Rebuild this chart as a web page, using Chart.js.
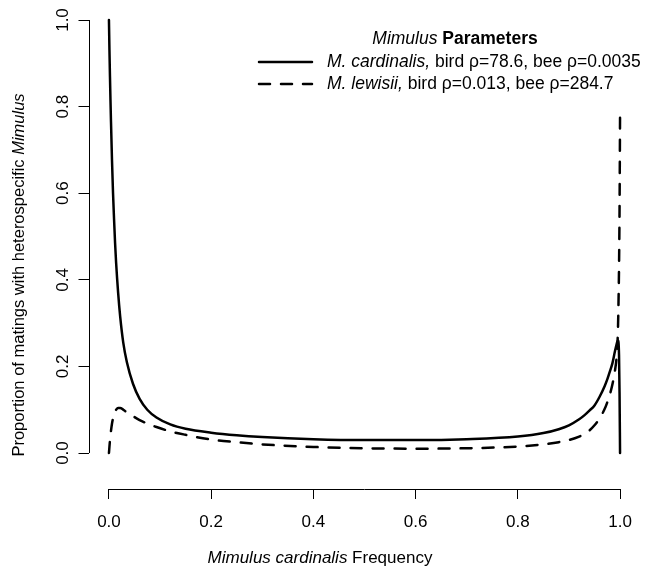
<!DOCTYPE html>
<html><head><meta charset="utf-8">
<script src="https://cdn.jsdelivr.net/npm/chart.js@4/dist/chart.umd.min.js"></script>
<style>html,body{margin:0;padding:0;background:#fff;}canvas{display:block}</style>
</head><body>
<canvas id="c" width="645" height="571"></canvas>
<script>
// M. cardinalis frequency (x)
const freq = [0, 0.001, 0.002, 0.003, 0.004, 0.006, 0.008, 0.01, 0.012, 0.014,
  0.018, 0.022, 0.028, 0.035, 0.047, 0.06, 0.075, 0.093, 0.12, 0.15,
  0.2, 0.25, 0.3, 0.4, 0.5, 0.6, 0.7, 0.8, 0.85, 0.88,
  0.9, 0.92, 0.93, 0.94, 0.95, 0.96, 0.97, 0.975, 0.98, 0.985,
  0.99, 0.993, 0.995, 0.996, 0.997, 0.998, 0.999, 1.0];
// Proportion of heterospecific matings, M. cardinalis (solid)
const cardinalis = [1.0, 0.93, 0.87, 0.815, 0.765, 0.675, 0.6, 0.54, 0.485, 0.44,
  0.37, 0.315, 0.255, 0.21, 0.16, 0.125, 0.1, 0.082, 0.066, 0.056,
  0.047, 0.041, 0.037, 0.032, 0.03, 0.03, 0.032, 0.038, 0.046, 0.055,
  0.064, 0.078, 0.087, 0.098, 0.11, 0.13, 0.155, 0.17, 0.188, 0.207,
  0.235, 0.25, 0.258, 0.26, 0.255, 0.225, 0.14, 0.0];
// Proportion of heterospecific matings, M. lewisii (dashed)
const lewisii = [0.0, 0.015, 0.029, 0.041, 0.051, 0.068, 0.08, 0.089, 0.096, 0.1,
  0.104, 0.104, 0.1, 0.094, 0.085, 0.076, 0.068, 0.06, 0.05, 0.042,
  0.031, 0.025, 0.02, 0.014, 0.011, 0.01, 0.011, 0.015, 0.02, 0.025,
  0.03, 0.038, 0.044, 0.052, 0.064, 0.08, 0.102, 0.117, 0.135, 0.158,
  0.19, 0.218, 0.255, 0.29, 0.35, 0.43, 0.56, 0.78];
const xTicks = [0, 0.2, 0.4, 0.6, 0.8, 1.0];
const yTicks = [0, 0.2, 0.4, 0.6, 0.8, 1.0];
const legendTitle = [["Mimulus", "italic"], [" Parameters", "bold"]];
const legendRows = [
  [["M. cardinalis,", "italic"], [" bird \u03c1=78.6, bee \u03c1=0.0035", "normal"]],
  [["M. lewisii,", "italic"], [" bird \u03c1=0.013, bee \u03c1=284.7", "normal"]]
];
const xTitle = [["Mimulus cardinalis", "italic"], [" Frequency", "normal"]];
const yTitle = [["Proportion of matings with heterospecific ", "normal"], ["Mimulus", "italic"]];

const FAM = '"Liberation Sans", Arial, Helvetica, sans-serif';
const FS = 17;
function fontFor(style, size) {
  const fs = size || FS;
  if (style === 'italic') return `italic ${fs}px ${FAM}`;
  if (style === 'bold') return `bold ${fs}px ${FAM}`;
  return `${fs}px ${FAM}`;
}
function runWidth(ctx, parts, size) {
  let w = 0;
  for (const [t, s] of parts) { ctx.font = fontFor(s, size); w += ctx.measureText(t).width; }
  return w;
}
function drawRuns(ctx, parts, x, y, size) {
  ctx.textAlign = 'left';
  ctx.textBaseline = 'middle';
  for (const [t, s] of parts) {
    ctx.font = fontFor(s, size);
    ctx.fillText(t, x, y);
    x += ctx.measureText(t).width;
  }
}

const rAxes = {
  id: 'rAxes',
  afterDraw(chart) {
    const {ctx, chartArea, scales} = chart;
    const xs = scales.x, ys = scales.y;
    ctx.save();
    ctx.strokeStyle = '#000';
    ctx.lineWidth = 1;
    ctx.setLineDash([]);
    // axis lines span first..last tick (R style)
    const yb = Math.round(chartArea.bottom) + 0.5;
    ctx.beginPath();
    ctx.moveTo(xs.getPixelForValue(xTicks[0]), yb);
    ctx.lineTo(xs.getPixelForValue(xTicks[xTicks.length - 1]), yb);
    ctx.stroke();
    const xl = Math.round(chartArea.left) + 0.5;
    ctx.beginPath();
    ctx.moveTo(xl, ys.getPixelForValue(yTicks[0]));
    ctx.lineTo(xl, ys.getPixelForValue(yTicks[yTicks.length - 1]));
    ctx.stroke();

    ctx.fillStyle = '#000';
    // y tick labels, rotated, centred on each tick of the y scale
    ctx.font = fontFor('normal');
    ys.ticks.forEach(t => {
      ctx.save();
      ctx.translate(63, ys.getPixelForValue(t.value));
      ctx.rotate(-Math.PI / 2);
      ctx.textAlign = 'center';
      ctx.textBaseline = 'middle';
      ctx.fillText(Number(t.value).toFixed(1), 0, 0);
      ctx.restore();
    });
    // x title
    const wx = runWidth(ctx, xTitle);
    drawRuns(ctx, xTitle, 320 - wx / 2, 558);
    // y title
    const wy = runWidth(ctx, yTitle, 16.5);
    ctx.save();
    ctx.translate(19, 275);
    ctx.rotate(-Math.PI / 2);
    drawRuns(ctx, yTitle, -wy / 2, 0, 16.5);
    ctx.restore();

    // legend
    const LS = 17.5;
    const lt = runWidth(ctx, legendTitle, LS);
    drawRuns(ctx, legendTitle, 455 - lt / 2, 39, LS);
    const rowsY = [62, 84];
    const lineX0 = 259, lineX1 = 312, textX = 327;
    legendRows.forEach((row, i) => {
      const ds = chart.data.datasets[i];
      ctx.save();
      ctx.strokeStyle = ds.borderColor;
      ctx.lineWidth = ds.borderWidth;
      ctx.lineCap = 'round';
      ctx.setLineDash(ds.borderDash || []);
      ctx.beginPath();
      ctx.moveTo(lineX0, rowsY[i]);
      ctx.lineTo(lineX1, rowsY[i]);
      ctx.stroke();
      ctx.restore();
      drawRuns(ctx, row, textX, rowsY[i], LS);
    });
    ctx.restore();
  }
};

new Chart(document.getElementById('c'), {
  type: 'scatter',
  data: {
    datasets: [
      {
        label: 'M. cardinalis',
        data: freq.map((f, i) => ({x: f, y: cardinalis[i]})),
        showLine: true, borderColor: '#000', borderWidth: 2.5,
        pointRadius: 0, cubicInterpolationMode: 'monotone',
        borderCapStyle: 'round', borderJoinStyle: 'round'
      },
      {
        label: 'M. lewisii',
        data: freq.map((f, i) => ({x: f, y: lewisii[i]})),
        showLine: true, borderColor: '#000', borderWidth: 2.5,
        borderDash: [11, 11],
        pointRadius: 0, cubicInterpolationMode: 'monotone',
        borderCapStyle: 'round', borderJoinStyle: 'round'
      }
    ]
  },
  options: {
    responsive: false,
    animation: false,
    devicePixelRatio: 1,
    layout: {padding: {left: 0, right: 3.5, top: 2, bottom: 0}},
    plugins: {legend: {display: false}, tooltip: {enabled: false}},
    scales: {
      x: {
        type: 'linear', min: -0.04, max: 1.04,
        afterBuildTicks: s => { s.ticks = xTicks.map(v => ({value: v})); },
        afterFit: s => { s.height = 82; },
        grid: {display: true, drawOnChartArea: false, drawTicks: true, tickLength: 10, color: '#000', lineWidth: 1},
        border: {display: false},
        ticks: {
          color: '#000', padding: 13, maxRotation: 0, autoSkip: false,
          font: {family: FAM, size: FS},
          callback: v => Number(v).toFixed(1)
        }
      },
      y: {
        type: 'linear', min: -0.0831, max: 1.0416,
        afterBuildTicks: s => { s.ticks = yTicks.map(v => ({value: v})); },
        afterFit: s => { s.width = 88.5; },
        grid: {display: true, drawOnChartArea: false, drawTicks: true, tickLength: 10, color: '#000', lineWidth: 1},
        border: {display: false},
        ticks: {display: false}
      }
    }
  },
  plugins: [rAxes]
});
</script>
</body></html>
